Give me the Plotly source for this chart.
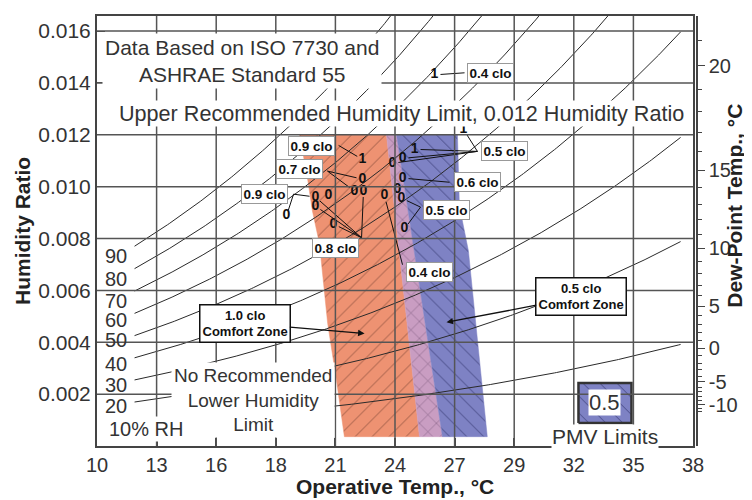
import numpy as np
import plotly.graph_objects as go

# ---------------- data ----------------
x_tick_F = [50, 55, 60, 65, 70, 75, 80, 85, 90, 95, 100]          # axis is linear in °F
x_tick_labels = ["10", "13", "16", "18", "21", "24", "27", "29", "32", "35", "38"]
y_tick_vals = [0.002, 0.004, 0.006, 0.008, 0.010, 0.012, 0.014, 0.016]
y_tick_labels = ["0.002", "0.004", "0.006", "0.008", "0.010", "0.012", "0.014", "0.016"]
y_max = 0.01658
dew_point_labels = [20, 15, 10, 5, 0, -5, -10]
dew_point_minor = list(range(-12, 23))

rh_levels = [10, 20, 30, 40, 50, 60, 70, 80, 90]
rh_T_span = [11.75, 37.2]
rh_label_text = ["90", "80", "70", "60", "50", "40", "30", "20"]
rh_label_W = [0.00734, 0.00645, 0.00561, 0.00484, 0.00408, 0.00316, 0.00235, 0.00155]
rh_label_T = 10.87

upper_limit_W = 0.012
zone_bottom_W = 0.00036
# comfort-zone edges (T in °C, W in kg/kg)
orange_left_T = [19.44, 19.81, 20.04, 20.37, 20.75, 21.16, 21.53]
orange_left_W = [0.0120, 0.01033, 0.00906, 0.00780, 0.00473, 0.00254, 0.00036]
blue_left_T = [23.49, 24.03, 25.03]
blue_left_W = [0.0120, 0.00791, 0.00036]
orange_right_T = [23.96, 24.70, 26.10]
orange_right_W = [0.0120, 0.00791, 0.00036]
blue_right_T = [26.80, 26.89, 27.31, 27.73, 28.19]
blue_right_W = [0.0120, 0.00925, 0.00753, 0.00408, 0.00036]

# PMV points (0 / 1) plotted on the chart
marker_text = ["1", "0", "0", "0", "0", "0", "0", "0", "0", "0",
               "1", "0", "0", "0", "0", "0", "0", "1", "1"]
marker_T = [22.37, 22.37, 22.00, 22.42, 20.18, 20.18, 20.79, 21.02, 18.83, 23.40,
            24.80, 24.24, 23.77, 24.24, 24.00, 24.19, 24.33, 27.08, 25.73]
marker_W = [0.01105, 0.01029, 0.00983, 0.00983, 0.00960, 0.00925, 0.00964, 0.00856, 0.00887, 0.00964,
            0.01144, 0.01109, 0.01090, 0.01033, 0.00990, 0.00956, 0.00837, 0.01221, 0.01431]

# clo callouts
callout_text = ["0.9 clo", "0.7 clo", "0.9 clo", "0.8 clo", "0.4 clo",
                "0.5 clo", "0.6 clo", "0.5 clo", "0.4 clo"]
callout_T = [20.00, 19.44, 17.81, 21.12, 25.50, 28.99, 27.73, 26.29, 28.34]
callout_W = [0.01155, 0.01067, 0.00971, 0.00764, 0.00672, 0.01136, 0.01017, 0.00910, 0.01439]
callout_anchor_T = [21.26, 20.74, 19.16, 22.33, 24.24, 27.73, 26.43, 25.08, 27.13]
callout_anchor_W = [0.01159, 0.01060, 0.00971, 0.00803, 0.00699, 0.01136, 0.01017, 0.00921, 0.01439]
callout_targets = [[0], [1, 2], [4, 8], [4, 5, 7, 3], [9], [10, 11, 12, 17], [13], [15, 16], [18]]

# comfort zone captions (arrow head, text box)
zone_caption = ["1.0 clo<br>Comfort Zone", "0.5 clo<br>Comfort Zone"]
zone_head_T = [22.47, 26.29]
zone_head_W = [0.00434, 0.00477]
zone_box_T = [16.88, 32.58]
zone_box_W = [0.00473, 0.00576]

# PMV legend key
key_T = [32.44, 34.91]
key_W = [0.00089, 0.00243]
key_label = "0.5"

# ---------------- helpers ----------------
P_ATM = 101.325


def f_to_c(f):
    return (np.asarray(f, float) - 32.0) * 5.0 / 9.0


def p_sat(t):
    t = np.asarray(t, float)
    water = 0.61094 * np.exp(17.625 * t / (t + 243.04))
    ice = 0.61115 * np.exp(22.452 * t / (272.55 + t))
    return np.where(t >= 0, water, ice)


def hum_ratio(pv):
    pv = np.asarray(pv, float)
    return 0.622 * pv / (P_ATM - pv)


x_tick_vals = list(f_to_c(x_tick_F))
x_range = [x_tick_vals[0], x_tick_vals[-1]]
FONT = "Liberation Sans, Arial, sans-serif"
TXT = "#333333"
ORANGE = "#EE9272"
PINK = "#C99DC2"
BLUE = "#7E82C4"

fig = go.Figure()

# ---------------- comfort zones ----------------
def poly(a_T, a_W, b_T, b_W):
    return list(a_T) + list(b_T)[::-1] + [a_T[0]], list(a_W) + list(b_W)[::-1] + [a_W[0]]


zones = [
    (poly(orange_left_T, orange_left_W, blue_left_T, blue_left_W), ORANGE, "/", "#6a3a2c"),
    (poly(blue_left_T, blue_left_W, orange_right_T, orange_right_W), PINK, "x", "#4a3050"),
    (poly(orange_right_T, orange_right_W, blue_right_T, blue_right_W), BLUE, "\\", "#26285e"),
]
for (xs, ys), col, shp, fg in zones:
    fig.add_trace(go.Scatter(
        x=xs, y=ys, mode="lines", fill="toself", fillcolor=col,
        line=dict(color=col, width=0.5),
        fillpattern=dict(shape=shp, bgcolor=col, fgcolor=fg, size=12, solidity=0.08, fgopacity=0.65),
        hoverinfo="skip", showlegend=False))

# ---------------- RH curves ----------------
T_curve = np.linspace(rh_T_span[0], rh_T_span[1], 300)
for rh in rh_levels:
    W_curve = hum_ratio(rh / 100.0 * p_sat(T_curve))
    fig.add_trace(go.Scatter(x=T_curve, y=W_curve, mode="lines",
                             line=dict(color="#2a2a2a", width=1),
                             hoverinfo="skip", showlegend=False))

# ---------------- callout lines ----------------
px_per_T = 596.0 / (x_range[1] - x_range[0])
px_per_W = 432.0 / y_max
lx, ly = [], []
for i, targets in enumerate(callout_targets):
    a_t, a_w = callout_anchor_T[i], callout_anchor_W[i]
    for j in targets:
        dx = (marker_T[j] - a_t) * px_per_T
        dy = (marker_W[j] - a_w) * px_per_W
        L = float(np.hypot(dx, dy))
        f = max(0.0, (L - 6.0) / L) if L > 0 else 0.0
        lx += [a_t, a_t + (marker_T[j] - a_t) * f, None]
        ly += [a_w, a_w + (marker_W[j] - a_w) * f, None]
fig.add_trace(go.Scatter(x=lx, y=ly, mode="lines", line=dict(color="#111111", width=1),
                         hoverinfo="skip", showlegend=False))

# ---------------- 0/1 points ----------------
fig.add_trace(go.Scatter(x=marker_T, y=marker_W, mode="text", text=marker_text,
                         textposition="middle center",
                         textfont=dict(family=FONT, size=14, color="#111111", weight="bold"),
                         hoverinfo="skip", showlegend=False))

# ---------------- PMV key ----------------
fig.add_trace(go.Scatter(
    x=[key_T[0], key_T[1], key_T[1], key_T[0], key_T[0]],
    y=[key_W[0], key_W[0], key_W[1], key_W[1], key_W[0]],
    mode="lines", fill="toself", fillcolor=BLUE,
    line=dict(color="#333333", width=2.5),
    fillpattern=dict(shape="\\", bgcolor=BLUE, fgcolor="#26285e", size=12, solidity=0.08, fgopacity=0.65),
    hoverinfo="skip", showlegend=False))

# invisible trace so the dew-point axis is drawn
fig.add_trace(go.Scatter(x=[x_range[0]], y=[0.0], yaxis="y2", mode="markers",
                         marker=dict(opacity=0), hoverinfo="skip", showlegend=False))

# ---------------- grid lines above fills ----------------
for xv in x_tick_vals[1:-1]:
    fig.add_shape(type="line", xref="x", yref="y domain", x0=xv, x1=xv, y0=0, y1=1,
                  line=dict(color="#555555", width=1.5), layer="above")
for yv in y_tick_vals:
    fig.add_shape(type="line", xref="x domain", yref="y", x0=0, x1=1, y0=yv, y1=yv,
                  line=dict(color="#555555", width=1.5), layer="above")

# ---------------- annotations ----------------
ann = []
ann.append(dict(x=16.78, y=0.01483, xref="x", yref="y", showarrow=False,
                text="Data Based on ISO 7730 and<br>ASHRAE Standard 55",
                font=dict(family=FONT, size=21, color=TXT), bgcolor="white", borderpad=2))
ann.append(dict(x=24.19, y=0.01284, xref="x", yref="y", showarrow=False,
                text="Upper Recommended Humidity Limit, 0.012 Humidity Ratio",
                font=dict(family=FONT, size=21.6, color=TXT), bgcolor="white", borderpad=0))
ann.append(dict(x=17.25, y=0.00178, xref="x", yref="y", showarrow=False,
                text="No Recommended<br>Lower Humidity<br>Limit",
                font=dict(family=FONT, size=19, color=TXT), bgcolor="white", borderpad=2))
ann.append(dict(x=10.45, y=0.00066, xref="x", yref="y", showarrow=False, xanchor="left",
                text="10% RH", font=dict(family=FONT, size=20, color=TXT), bgcolor="white", borderpad=1))
for t, w in zip(rh_label_text, rh_label_W):
    ann.append(dict(x=rh_label_T, y=w, xref="x", yref="y", showarrow=False, text=t,
                    font=dict(family=FONT, size=20, color=TXT)))
for i, t in enumerate(callout_text):
    ann.append(dict(x=callout_T[i], y=callout_W[i], xref="x", yref="y", showarrow=False, text=t,
                    font=dict(family=FONT, size=13.5, color="#111111", weight="bold"),
                    bgcolor="white", bordercolor="#999999", borderwidth=1, borderpad=1.5))
for i, t in enumerate(zone_caption):
    ann.append(dict(x=zone_head_T[i], y=zone_head_W[i], xref="x", yref="y",
                    ax=zone_box_T[i], ay=zone_box_W[i], axref="x", ayref="y",
                    showarrow=True, arrowhead=2, arrowsize=1, arrowwidth=1.3, arrowcolor="#111111",
                    text=t, font=dict(family=FONT, size=13, color="#111111", weight="bold"),
                    bgcolor="white", bordercolor="#111111", borderwidth=1.5, borderpad=2))
ann.append(dict(x=(key_T[0] + key_T[1]) / 2, y=(key_W[0] + key_W[1]) / 2, xref="x", yref="y",
                showarrow=False, text=key_label, font=dict(family=FONT, size=22, color=TXT),
                bgcolor="white", borderpad=0))
ann.append(dict(x=(key_T[0] + key_T[1]) / 2, y=zone_bottom_W, xref="x", yref="y",
                showarrow=False, text="PMV Limits", font=dict(family=FONT, size=21, color=TXT),
                bgcolor="white", borderpad=0))
# axis titles
ann.append(dict(x=-0.125, y=0.5, xref="paper", yref="paper", showarrow=False, textangle=-90,
                xanchor="center", yanchor="middle",
                text="Humidity Ratio", font=dict(family=FONT, size=21, color="#222222", weight="bold")))
ann.append(dict(x=1.061, y=0.558, xref="paper", yref="paper", showarrow=False, textangle=-90,
                xanchor="center", yanchor="middle",
                text="Dew-Point Temp., °C", font=dict(family=FONT, size=21, color="#222222", weight="bold")))
ann.append(dict(x=0.4967, y=-0.095, xref="paper", yref="paper", showarrow=False,
                xanchor="center", yanchor="middle",
                text="Operative Temp., °C", font=dict(family=FONT, size=21, color="#222222", weight="bold")))

dp_major = list(hum_ratio(p_sat(dew_point_labels)))
dp_minor = [float(hum_ratio(p_sat(d))) for d in dew_point_minor if d not in dew_point_labels]

# the page body adds an 8 px offset, so the figure is 8 px smaller on each axis
fig.update_layout(
    width=744, height=492,
    margin=dict(l=89, r=55, t=6, b=54),
    paper_bgcolor="white", plot_bgcolor="white",
    showlegend=False,
    annotations=ann,
    xaxis=dict(domain=[0, 596 / 600], range=x_range, tickmode="array", tickvals=x_tick_vals,
               ticktext=x_tick_labels, showgrid=False, zeroline=False,
               showline=True, mirror=True, linecolor="#444444", linewidth=2,
               ticks="inside", ticklen=8, tickcolor="#444444", tickwidth=1.5,
               tickfont=dict(family=FONT, size=20, color=TXT)),
    yaxis=dict(range=[0, y_max], tickmode="array", tickvals=y_tick_vals, ticktext=y_tick_labels,
               showgrid=False, zeroline=False, showline=True, mirror=True,
               linecolor="#444444", linewidth=2, ticks="inside", ticklen=8, tickcolor="#444444",
               tickfont=dict(family=FONT, size=21, color=TXT)),
    yaxis2=dict(range=[0, y_max], overlaying="y", side="right", anchor="free", position=1,
                tickmode="array", tickvals=dp_major, ticktext=[str(d) for d in dew_point_labels],
                showgrid=False, zeroline=False, showline=True, linecolor="#444444", linewidth=1.5,
                ticks="outside", ticklen=7, tickcolor="#444444",
                minor=dict(tickmode="array", tickvals=dp_minor, ticks="outside", ticklen=4,
                           tickcolor="#444444"),
                tickfont=dict(family=FONT, size=20, color=TXT)),
)

fig.write_html("out.html")
